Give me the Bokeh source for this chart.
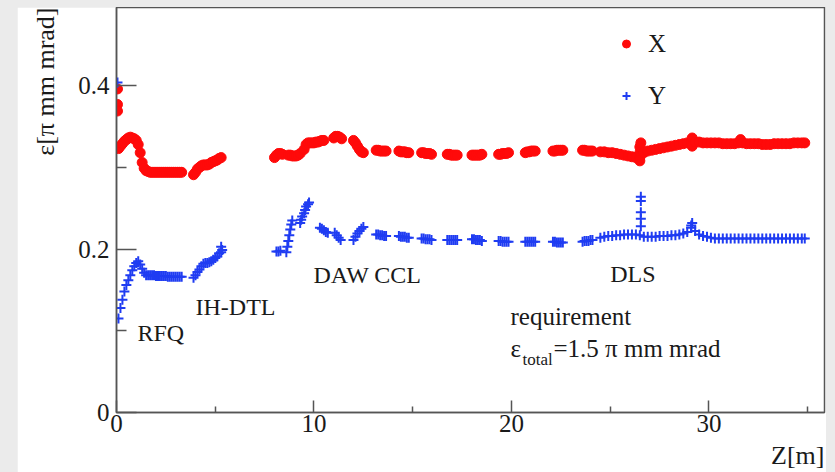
from bokeh.plotting import figure
from bokeh.models import (Range1d, FixedTicker, Label, Legend, LegendItem, Title,
                          GlobalInlineStyleSheet)
from bokeh.embed import file_html
from bokeh.resources import INLINE

# ---------------- data ----------------
# X emittance (red dots)
x_start_z = [0.05, 0.05, 0.05]
x_start_eps = [0.396, 0.377, 0.369]

x_rfq_z = [0.1, 0.2, 0.3, 0.4, 0.5, 0.6, 0.7, 0.8, 0.9, 1.0, 1.1, 1.2, 1.3, 1.4, 1.5, 1.6,
           1.7, 1.8, 1.9, 2.0, 2.1, 2.2, 2.3, 2.4, 2.5, 2.6, 2.7, 2.8, 2.9, 3.0, 3.1, 3.2, 3.3]
x_rfq_eps = [0.323, 0.326, 0.329, 0.332, 0.334, 0.336, 0.337, 0.336, 0.335, 0.333, 0.328, 0.318,
             0.306, 0.299, 0.296, 0.295, 0.294, 0.294, 0.294, 0.294, 0.294, 0.294, 0.294, 0.294,
             0.294, 0.294, 0.294, 0.294, 0.294, 0.294, 0.294, 0.294, 0.294]

x_ih_z = [3.9, 4.0, 4.1, 4.2, 4.3, 4.4, 4.5, 4.6, 4.7, 4.8, 4.9, 5.0, 5.1, 5.2, 5.3]
x_ih_eps = [0.291, 0.294, 0.298, 0.300, 0.302, 0.303, 0.303, 0.303, 0.304, 0.306, 0.307, 0.308,
            0.309, 0.311, 0.312]

x_daw_z = [8.0, 8.1, 8.2, 8.3, 8.4, 8.7, 8.8, 8.9, 9.0, 9.1, 9.2, 9.3, 9.5, 9.6, 9.7, 9.8, 9.9,
           10.0, 10.1, 10.2, 10.3, 10.4, 10.5, 11.0, 11.1, 11.2, 11.3, 11.4, 12.0, 12.1, 12.2,
           12.3, 12.4, 12.5]
x_daw_eps = [0.312, 0.315, 0.317, 0.317, 0.316, 0.315, 0.315, 0.314, 0.314, 0.314, 0.315, 0.317,
             0.322, 0.328, 0.330, 0.330, 0.330, 0.330, 0.331, 0.331, 0.332, 0.333, 0.333, 0.336,
             0.338, 0.338, 0.337, 0.335, 0.333, 0.330, 0.326, 0.322, 0.319, 0.318]

x_ccl_z = [13.15, 13.25, 13.35, 13.45, 13.55, 13.65, 14.30, 14.40, 14.50, 14.60, 14.70, 14.80,
           15.45, 15.55, 15.65, 15.75, 15.85, 15.95, 16.75, 16.85, 16.95, 17.05, 17.15, 17.25,
           18.00, 18.10, 18.20, 18.30, 18.40, 18.50, 19.35, 19.45, 19.55, 19.65, 19.75, 19.85,
           20.70, 20.80, 20.90, 21.00, 21.10, 21.20, 22.10, 22.20, 22.30, 22.40, 22.50, 22.60,
           23.60, 23.70, 23.80, 23.90, 24.00, 24.10]
x_ccl_eps = [0.321, 0.321, 0.320, 0.320, 0.320, 0.320, 0.320, 0.319, 0.319, 0.319, 0.318, 0.318,
             0.318, 0.318, 0.317, 0.317, 0.317, 0.316, 0.316, 0.316, 0.315, 0.315, 0.315, 0.315,
             0.315, 0.315, 0.315, 0.315, 0.315, 0.316, 0.316, 0.316, 0.317, 0.317, 0.317, 0.318,
             0.318, 0.319, 0.319, 0.320, 0.320, 0.320, 0.320, 0.320, 0.321, 0.321, 0.321, 0.321,
             0.321, 0.321, 0.320, 0.320, 0.320, 0.320]

x_dls_z = [24.5, 24.7, 24.9, 25.1, 25.3, 25.5, 25.7, 25.9, 26.1, 26.3, 26.5, 26.5, 26.5, 26.55,
           26.5, 26.7, 26.9, 27.1, 27.3, 27.5, 27.7, 27.9, 28.1, 28.3, 28.5, 28.7, 28.9, 29.1,
           29.15, 29.15, 29.3, 29.5, 29.7, 29.9, 30.1, 30.3, 30.5, 30.7, 30.9, 31.1, 31.3, 31.5,
           31.6, 31.7, 31.9, 32.1, 32.3, 32.5, 32.7, 32.9, 33.1, 33.3, 33.5, 33.7, 33.9, 34.1,
           34.3, 34.5, 34.7, 34.85]
x_dls_eps = [0.319, 0.319, 0.318, 0.318, 0.317, 0.316, 0.315, 0.314, 0.313, 0.312, 0.312, 0.318,
             0.325, 0.330, 0.308, 0.318, 0.320, 0.321, 0.322, 0.323, 0.324, 0.325, 0.326, 0.327,
             0.328, 0.329, 0.330, 0.331, 0.336, 0.326, 0.331, 0.331, 0.330, 0.330, 0.330, 0.330,
             0.330, 0.329, 0.329, 0.329, 0.329, 0.330, 0.334, 0.330, 0.329, 0.329, 0.329, 0.329,
             0.328, 0.328, 0.328, 0.329, 0.329, 0.329, 0.329, 0.329, 0.330, 0.330, 0.330, 0.330]

# Y emittance (blue crosses)
y_start_z = [0.05]
y_start_eps = [0.404]

y_rfq_z = [0.1, 0.2, 0.3, 0.4, 0.5, 0.6, 0.7, 0.8, 0.9, 1.0, 1.1, 1.2, 1.3, 1.4, 1.5, 1.6,
           1.7, 1.8, 1.9, 2.0, 2.1, 2.2, 2.3, 2.4, 2.5, 2.6, 2.7, 2.8, 2.9, 3.0, 3.1, 3.2, 3.3]
y_rfq_eps = [0.115, 0.128, 0.138, 0.148, 0.156, 0.162, 0.168, 0.174, 0.179, 0.183, 0.185, 0.181,
             0.176, 0.171, 0.168, 0.168, 0.168, 0.168, 0.168, 0.167, 0.167, 0.167, 0.167, 0.167,
             0.167, 0.166, 0.166, 0.166, 0.166, 0.166, 0.166, 0.166, 0.166]

y_ih_z = [3.9, 4.0, 4.1, 4.2, 4.3, 4.4, 4.5, 4.6, 4.7, 4.8, 4.9, 5.0, 5.1, 5.2, 5.3, 5.3, 5.35]
y_ih_eps = [0.165, 0.168, 0.172, 0.175, 0.179, 0.182, 0.183, 0.183, 0.184, 0.185, 0.187, 0.189,
            0.191, 0.195, 0.203, 0.196, 0.199]

y_daw_z = [8.1, 8.2, 8.3, 8.6, 8.65, 8.7, 8.75, 8.8, 8.85, 8.9, 9.3, 9.35, 9.4, 9.5, 9.55, 9.6,
           9.7, 9.75, 10.3, 10.4, 10.5, 10.6, 10.7, 11.05, 11.15, 11.25, 11.35, 12.0, 12.1, 12.2,
           12.3, 12.4, 12.5]
y_daw_eps = [0.197, 0.197, 0.198, 0.196, 0.203, 0.210, 0.217, 0.224, 0.230, 0.235, 0.232, 0.236,
             0.240, 0.244, 0.248, 0.252, 0.255, 0.257, 0.226, 0.225, 0.223, 0.221, 0.220, 0.220,
             0.217, 0.214, 0.211, 0.211, 0.215, 0.219, 0.222, 0.225, 0.227]

y_ccl_z = x_ccl_z
y_ccl_eps = [0.218, 0.218, 0.217, 0.217, 0.216, 0.216, 0.216, 0.215, 0.215, 0.215, 0.214, 0.214,
             0.213, 0.213, 0.212, 0.212, 0.212, 0.211, 0.211, 0.211, 0.211, 0.211, 0.211, 0.211,
             0.212, 0.212, 0.211, 0.211, 0.211, 0.210, 0.210, 0.210, 0.209, 0.209, 0.209, 0.209,
             0.209, 0.209, 0.209, 0.209, 0.209, 0.209, 0.209, 0.209, 0.208, 0.208, 0.208, 0.208,
             0.209, 0.210, 0.210, 0.210, 0.211, 0.211]

y_dls_z = [24.5, 24.7, 24.9, 25.1, 25.3, 25.5, 25.7, 25.9, 26.1, 26.3, 26.5, 26.55, 26.55, 26.55,
           26.55, 26.55, 26.7, 26.9, 27.1, 27.3, 27.5, 27.7, 27.9, 28.1, 28.3, 28.5, 28.7, 28.9,
           29.1, 29.15, 29.1, 29.3, 29.5, 29.7, 29.9, 30.1, 30.3, 30.5, 30.7, 30.9, 31.1, 31.3,
           31.5, 31.7, 31.9, 32.1, 32.3, 32.5, 32.7, 32.9, 33.1, 33.3, 33.5, 33.7, 33.9, 34.1,
           34.3, 34.5, 34.7, 34.85]
y_dls_eps = [0.214, 0.215, 0.216, 0.216, 0.217, 0.217, 0.218, 0.218, 0.218, 0.218, 0.217, 0.264,
             0.259, 0.245, 0.237, 0.228, 0.215, 0.215, 0.215, 0.215, 0.216, 0.216, 0.216, 0.217,
             0.217, 0.218, 0.219, 0.221, 0.226, 0.232, 0.229, 0.222, 0.218, 0.216, 0.215, 0.214,
             0.213, 0.213, 0.213, 0.213, 0.213, 0.213, 0.213, 0.213, 0.213, 0.213, 0.213, 0.213,
             0.213, 0.213, 0.213, 0.213, 0.213, 0.213, 0.213, 0.213, 0.213, 0.213, 0.213, 0.213]

x_major_ticks = [0, 10, 20, 30]
x_minor_ticks = [5, 15, 25, 35]
x_tick_labels = ["0", "10", "20", "30"]
y_major_ticks = [0, 0.2, 0.4]
y_minor_ticks = [0.1, 0.3]
y_tick_labels = ["0", "0.2", "0.4"]

x_title = "Z[m]"
y_title = "ε[π mm mrad]"
series_names = ["X", "Y"]
section_names = ["RFQ", "IH-DTL", "DAW CCL", "DLS"]
section_pos_z = [1.06, 4.0, 9.97, 25.0]
section_pos_eps = [0.097, 0.129, 0.168, 0.169]

# ---------------- figure ----------------
FONT = "Liberation Serif"
RED = "#ff0a0a"
BLUE = "#1f3cf2"
AXC = "#555555"
TXT = "#1a1a1a"

z_x = x_start_z + x_rfq_z + x_ih_z + x_daw_z + x_ccl_z + x_dls_z
e_x = x_start_eps + x_rfq_eps + x_ih_eps + x_daw_eps + x_ccl_eps + x_dls_eps
z_y = y_start_z + y_rfq_z + y_ih_z + y_daw_z + y_ccl_z + y_dls_z
e_y = y_start_eps + y_rfq_eps + y_ih_eps + y_daw_eps + y_ccl_eps + y_dls_eps

p = figure(width=809, height=471, x_range=Range1d(0, 35.85), y_range=Range1d(0, 0.4957),
           output_backend="svg", toolbar_location=None,
           min_border_left=99, min_border_right=2, min_border_top=0, min_border_bottom=66,
           background_fill_color="white", border_fill_color="white")
p.margin = (7, 0, 0, 17)
p.stylesheets = [GlobalInlineStyleSheet(
    css="html, body { background-color: #ebebeb; overflow: hidden; }")]
p.grid.visible = False
p.outline_line_color = AXC
p.outline_line_width = 1.5

xa = p.xaxis[0]
xa.ticker = FixedTicker(ticks=x_major_ticks, minor_ticks=x_minor_ticks)
xa.major_label_overrides = {t: l for t, l in zip(x_major_ticks, x_tick_labels)}
xa.major_tick_in = 12
xa.major_tick_out = 0
xa.minor_tick_in = 6
xa.minor_tick_out = 0
xa.major_label_standoff = 2
ya = p.yaxis[0]
ya.ticker = FixedTicker(ticks=y_major_ticks, minor_ticks=y_minor_ticks)
ya.major_label_overrides = {t: l for t, l in zip(y_major_ticks, y_tick_labels)}
ya.major_tick_in = 20
ya.major_tick_out = 0
ya.minor_tick_in = 10
ya.minor_tick_out = 0
ya.major_label_standoff = 7
ya.major_label_orientation = "horizontal"
for ax in (xa, ya):
    ax.axis_line_color = AXC
    ax.axis_line_width = 1.5
    ax.major_tick_line_color = AXC
    ax.minor_tick_line_color = AXC
    ax.major_tick_line_width = 1.5
    ax.minor_tick_line_width = 1.5
    ax.major_label_text_font = FONT
    ax.major_label_text_font_size = "25px"
    ax.major_label_text_color = TXT

# axis titles as side titles (right/top aligned like the reference)
p.add_layout(Title(text=x_title, align="right", standoff=8, text_font=FONT,
                   text_font_size="26px", text_font_style="normal", text_color=TXT), "below")
p.add_layout(Title(text=y_title, align="right", standoff=27, vertical_align="top",
                   text_font=FONT, text_font_size="26px", text_font_style="normal",
                   text_color=TXT), "left")

r_x = p.scatter(z_x, e_x, marker="circle", size=10, fill_color=RED, line_color=RED)
r_y = p.scatter(z_y, e_y, marker="cross", size=10, line_color=BLUE, line_width=2)

legend = Legend(items=[LegendItem(label=series_names[0], renderers=[r_x]),
                       LegendItem(label=series_names[1], renderers=[r_y])],
                location=(500, 302), orientation="vertical",
                glyph_width=20, glyph_height=29, label_height=29, label_standoff=12,
                spacing=23, padding=0, margin=0,
                border_line_color=None, background_fill_alpha=0,
                label_text_font=FONT, label_text_font_size="25px", label_text_color=TXT)
p.add_layout(legend)

for name, zz, ee in zip(section_names, section_pos_z, section_pos_eps):
    p.add_layout(Label(x=zz, y=ee, text=name, text_font=FONT, text_font_size="24px",
                       text_color=TXT, text_align="left", text_baseline="alphabetic"))

# requirement note
p.add_layout(Label(x=19.95, y=0.1006, text="requirement", text_font=FONT,
                   text_font_size="25px", text_color=TXT))
p.add_layout(Label(x=19.95, y=0.0613, text="ε", text_font=FONT,
                   text_font_size="25px", text_color=TXT))
p.add_layout(Label(x=19.95, y=0.0613, x_offset=12, y_offset=-7, text="total", text_font=FONT,
                   text_font_size="17px", text_color=TXT))
p.add_layout(Label(x=19.95, y=0.0613, x_offset=43, text="=1.5 π mm mrad", text_font=FONT,
                   text_font_size="25px", text_color=TXT))

open("out.html", "w").write(file_html(p, INLINE))
